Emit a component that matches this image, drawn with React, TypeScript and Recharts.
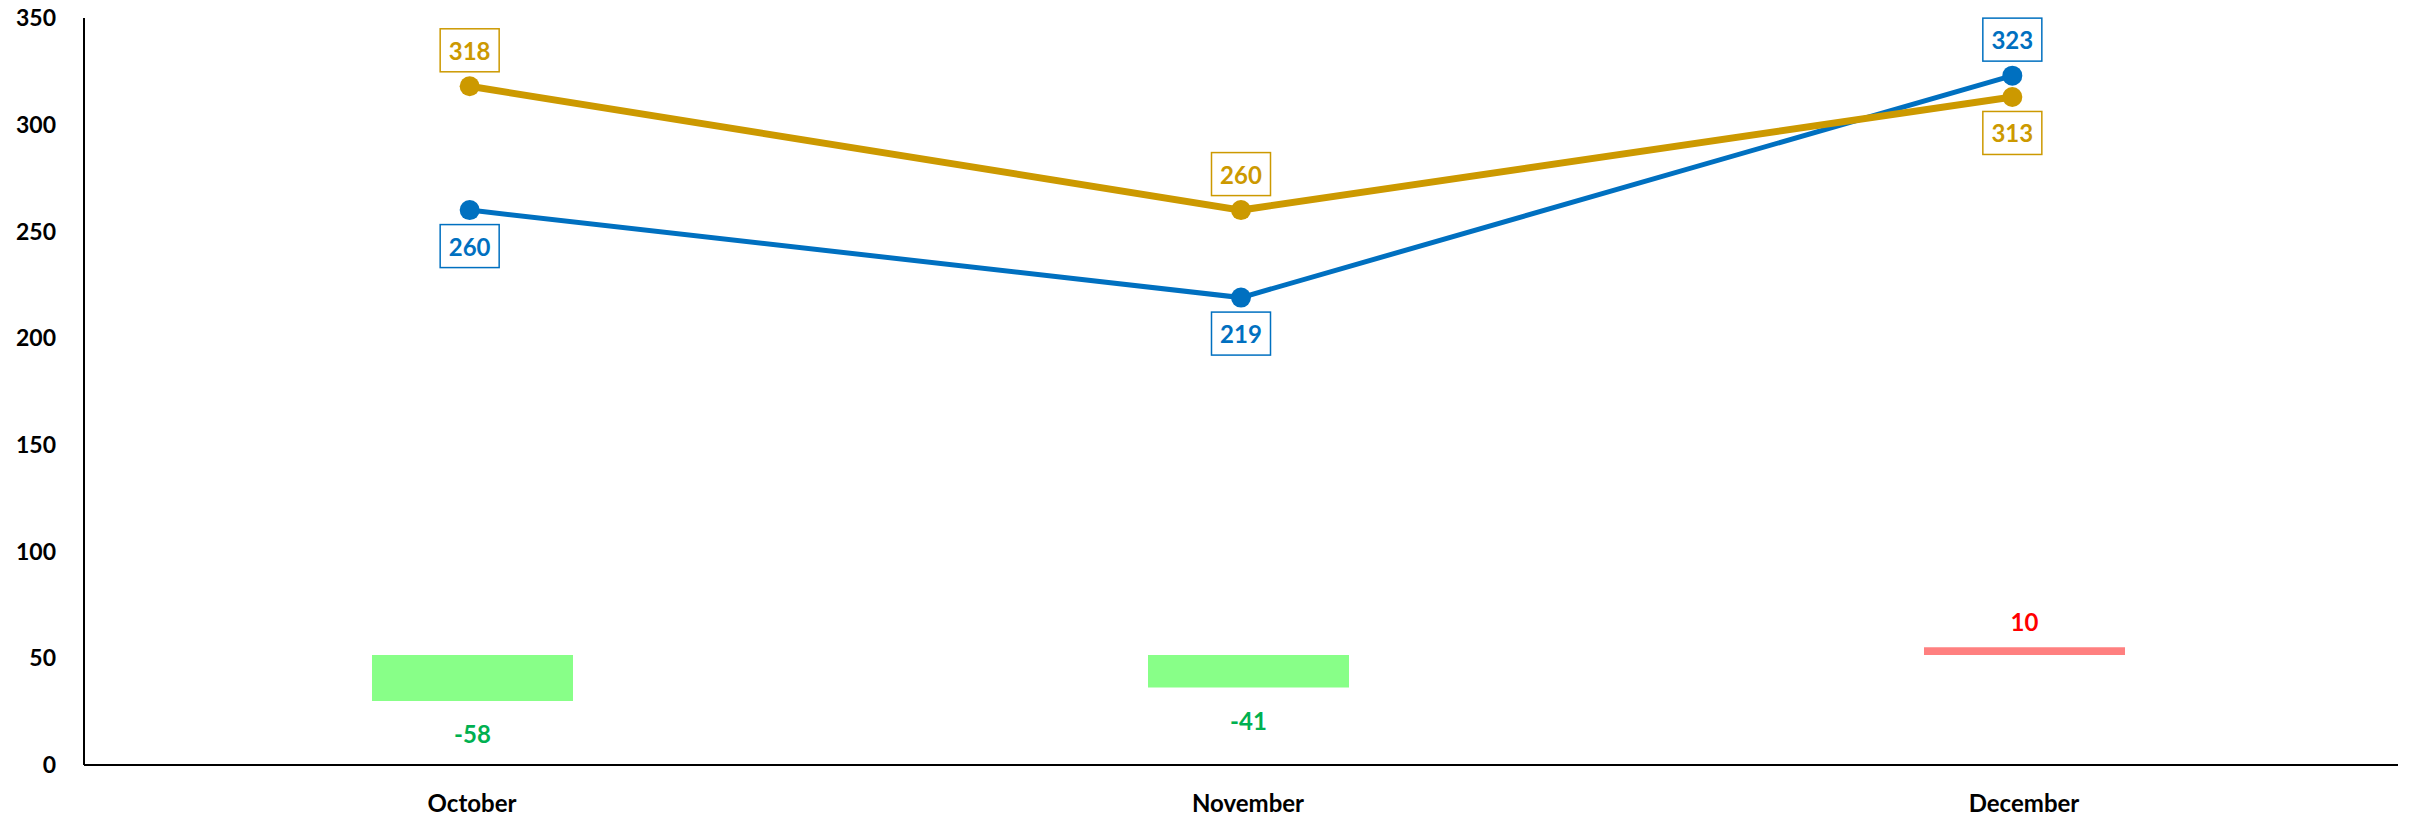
import { ComposedChart, Line, Bar, Cell, XAxis, YAxis, LabelList } from 'recharts';

const months = ['October', 'November', 'December'];
const goldValues = [318, 260, 313];
const blueValues = [260, 219, 323];
const variance = [-58, -41, 10];
const yTicks = [0, 50, 100, 150, 200, 250, 300, 350];

const GOLD = '#CC9900';
const BLUE = '#0070C0';
const FONT = 'Lato, "Open Sans", sans-serif';

const data = months.map((m, i) => ({
  month: m,
  gold: goldValues[i],
  blue: blueValues[i],
  variance: variance[i],
}));

// boxed value label, above or below the dot depending on which line is higher
const boxLabel = (color: string, key: 'gold' | 'blue') => (props: any) => {
  const { x, y, value, index } = props;
  const row = data[index];
  const other = key === 'gold' ? row.blue : row.gold;
  const above = row[key] >= other;
  const w = 59;
  const h = 43;
  const cy = above ? y - 36 : y + 36;
  return (
    <g>
      <rect x={x - w / 2} y={cy - h / 2} width={w} height={h} fill="#fff" stroke={color} strokeWidth={1.5} />
      <text x={x} y={cy} textAnchor="middle" dominantBaseline="central" fill={color}
        fontFamily={FONT} fontWeight={700} fontSize={24}>
        {value}
      </text>
    </g>
  );
};

const varianceLabel = (props: any) => {
  const { x, y, width, height, value } = props;
  const top = Math.min(y, y + height);
  const bottom = Math.max(y, y + height);
  const neg = value < 0;
  return (
    <text x={x + width / 2} y={neg ? bottom + 33 : top - 26} textAnchor="middle" dominantBaseline="central"
      fill={neg ? '#00B050' : '#FF0000'} fontFamily={FONT} fontWeight={700} fontSize={24}>
      {value}
    </text>
  );
};

export default function App() {
  return (
    <div style={{ position: 'absolute', left: 0, top: 0 }}>
      <ComposedChart width={2414} height={820} data={data} margin={{ top: 18, right: 16, bottom: 0, left: 0 }}>
        {/* bars and month labels sit on a slightly wider category scale than the lines */}
        <XAxis xAxisId="bars" dataKey="month" height={55} tickLine={false} tickSize={0} tickMargin={30}
          padding={{ left: 0, right: -14 }}
          axisLine={{ stroke: '#000', strokeWidth: 2 }}
          tick={{ fill: '#000', fontFamily: FONT, fontWeight: 700, fontSize: 24 }} />
        <XAxis xAxisId="lines" dataKey="month" hide />
        <YAxis yAxisId="left" domain={[0, 350]} ticks={yTicks} width={84} tickLine={false} tickSize={0} tickMargin={28}
          axisLine={{ stroke: '#000', strokeWidth: 2 }}
          tick={{ fill: '#000', fontFamily: FONT, fontWeight: 700, fontSize: 23 }} />
        <YAxis yAxisId="var" orientation="right" hide domain={[-139, 806]} />
        <Bar xAxisId="bars" yAxisId="var" dataKey="variance" barSize={201} isAnimationActive={false}>
          {data.map((d, i) => (
            <Cell key={i} fill={d.variance < 0 ? '#88FF88' : '#FF8080'} />
          ))}
          <LabelList dataKey="variance" content={varianceLabel} />
        </Bar>
        <Line xAxisId="lines" yAxisId="left" dataKey="blue" stroke={BLUE} strokeWidth={5} isAnimationActive={false}
          dot={{ r: 10, fill: BLUE, stroke: BLUE, strokeWidth: 0 }} activeDot={false}>
          <LabelList dataKey="blue" content={boxLabel(BLUE, 'blue')} />
        </Line>
        <Line xAxisId="lines" yAxisId="left" dataKey="gold" stroke={GOLD} strokeWidth={7} isAnimationActive={false}
          dot={{ r: 10, fill: GOLD, stroke: GOLD, strokeWidth: 0 }} activeDot={false}>
          <LabelList dataKey="gold" content={boxLabel(GOLD, 'gold')} />
        </Line>
      </ComposedChart>
    </div>
  );
}
